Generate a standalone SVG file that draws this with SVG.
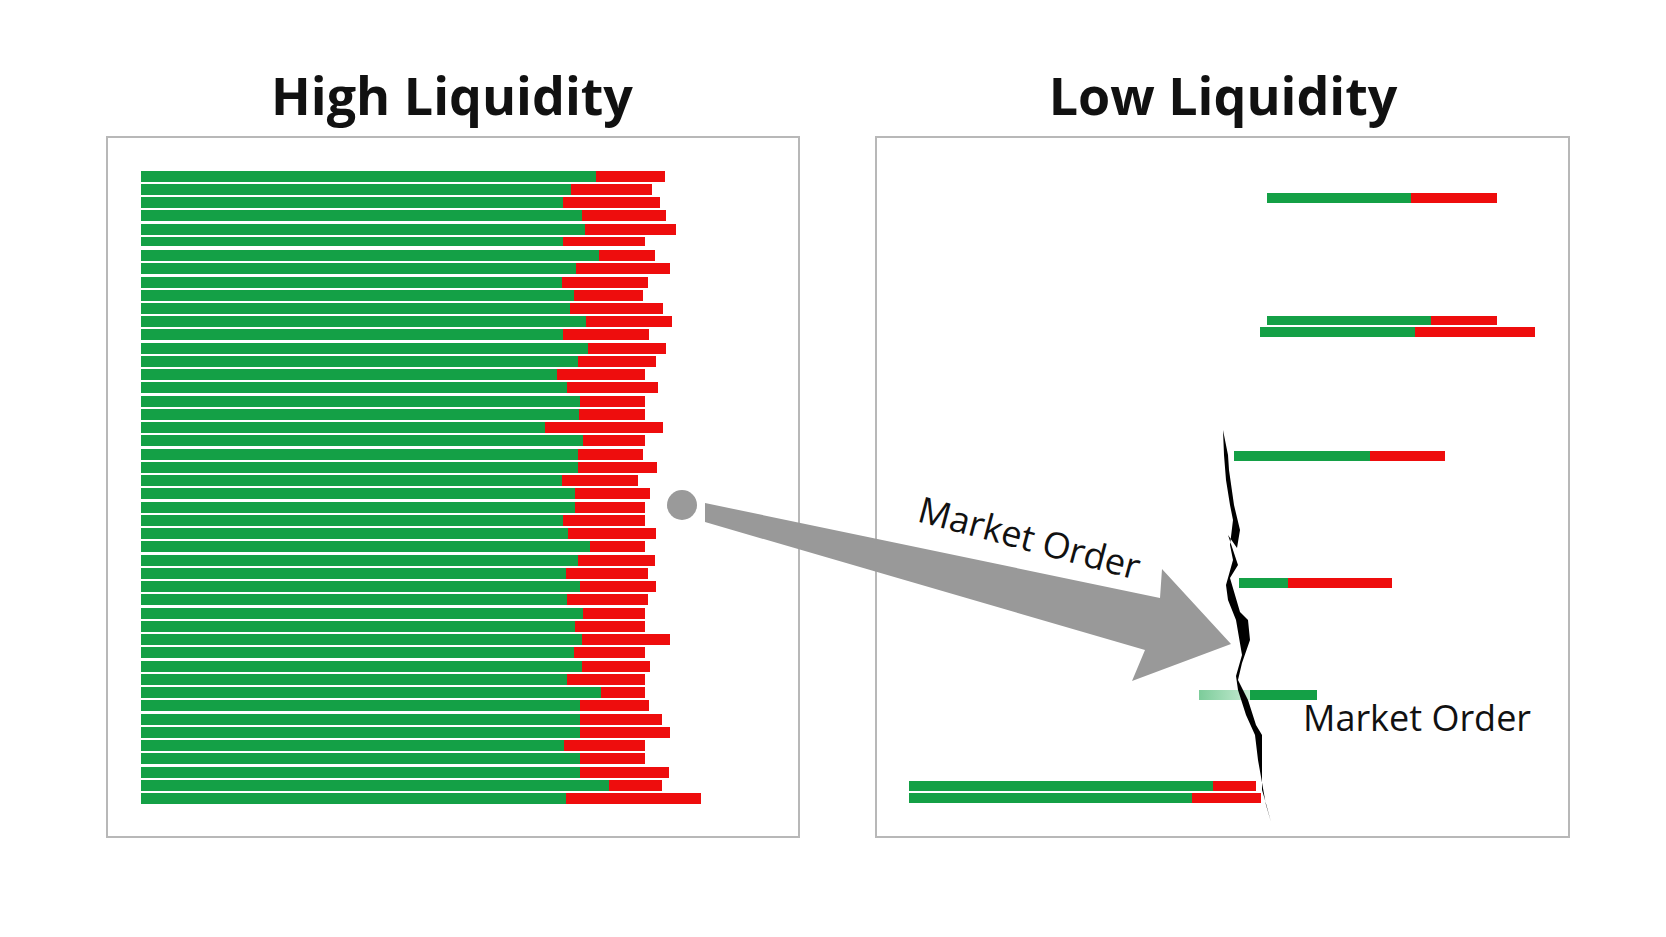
<svg xmlns="http://www.w3.org/2000/svg" width="1666" height="937" viewBox="0 0 1666 937">
<style>
.t{font-family:"Open Sans","Liberation Sans",sans-serif;font-weight:700;font-size:52px;fill:#111;text-anchor:middle}
.m{font-family:"Open Sans","Liberation Sans",sans-serif;font-size:36px;fill:#111}
.g{fill:#14a046}.r{fill:#ee0d0d}
.box{fill:#fff;stroke:#b8b8b8;stroke-width:2}
</style>
<rect width="1666" height="937" fill="#fff"/>
<g id="titles">
<text class="t" x="452" y="115">High Liquidity</text>
<text class="t" x="1223" y="115">Low Liquidity</text>
</g>
<g id="high-panel">
<rect class="box" x="107" y="137" width="692" height="700"/>
<g id="high-bars"></g>
</g>
<g id="low-panel">
<rect class="box" x="876" y="137" width="693" height="700"/>
<rect class="g" x="1267" y="193" width="145" height="10"/><rect class="r" x="1411" y="193" width="86" height="10"/>
<rect class="g" x="1267" y="316" width="165" height="9"/><rect class="r" x="1431" y="316" width="66" height="9"/>
<rect class="g" x="1260" y="327" width="156" height="10"/><rect class="r" x="1415" y="327" width="120" height="10"/>
<rect class="g" x="1234" y="451" width="137" height="10"/><rect class="r" x="1370" y="451" width="75" height="10"/>
<rect class="g" x="1239" y="578" width="50" height="10"/><rect class="r" x="1288" y="578" width="104" height="10"/>
<defs><linearGradient id="fade" x1="0" x2="1"><stop offset="0" stop-color="#7ccc9a"/><stop offset="1" stop-color="#c8ecd4"/></linearGradient></defs>
<rect x="1199" y="690" width="52" height="10" fill="url(#fade)"/><rect class="g" x="1250" y="690" width="67" height="10"/>
<rect class="g" x="909" y="781" width="305" height="10"/><rect class="r" x="1213" y="781" width="43" height="10"/>
<rect class="g" x="909" y="793" width="284" height="10"/><rect class="r" x="1192" y="793" width="69" height="10"/>
<polygon fill="#000" points="1223,430 1228,455 1229,470 1234,505 1240,530 1237,548 1228,535 1238,565 1230,578 1240,612 1248,620 1250,640 1242,663 1238,680 1248,700 1256,725 1262,735 1262,790 1265,800 1271,822 1266,805 1258,760 1255,735 1246,715 1238,690 1236,676 1242,655 1236,620 1228,600 1226,585 1233,560 1230,545 1233,520 1230,505 1226,480 1224,455"/>
<text class="m" x="1303" y="731">Market Order</text>
<text class="m" transform="translate(916,521) rotate(15)">Market Order</text>
</g>
<g id="connectors">
<circle cx="682" cy="505" r="15" fill="#9a9a9a"/>
<polygon fill="#999" points="705,503 1160,598 1162,569 1231,644 1132,681 1145,650 705,522"/>
</g>
<g id="rows">
<rect class="g" x="141" y="171" width="455" height="11"/><rect class="r" x="596" y="171" width="69" height="11"/>
<rect class="g" x="141" y="184" width="430" height="11"/><rect class="r" x="571" y="184" width="81" height="11"/>
<rect class="g" x="141" y="197" width="422" height="11"/><rect class="r" x="563" y="197" width="97" height="11"/>
<rect class="g" x="141" y="210" width="441" height="11"/><rect class="r" x="582" y="210" width="84" height="11"/>
<rect class="g" x="141" y="224" width="444" height="11"/><rect class="r" x="585" y="224" width="91" height="11"/>
<rect class="g" x="141" y="237" width="422" height="9"/><rect class="r" x="563" y="237" width="82" height="9"/>
<rect class="g" x="141" y="250" width="458" height="11"/><rect class="r" x="599" y="250" width="56" height="11"/>
<rect class="g" x="141" y="263" width="435" height="11"/><rect class="r" x="576" y="263" width="94" height="11"/>
<rect class="g" x="141" y="277" width="421" height="11"/><rect class="r" x="562" y="277" width="86" height="11"/>
<rect class="g" x="141" y="290" width="433" height="11"/><rect class="r" x="574" y="290" width="69" height="11"/>
<rect class="g" x="141" y="303" width="429" height="11"/><rect class="r" x="570" y="303" width="93" height="11"/>
<rect class="g" x="141" y="316" width="445" height="11"/><rect class="r" x="586" y="316" width="86" height="11"/>
<rect class="g" x="141" y="329" width="422" height="11"/><rect class="r" x="563" y="329" width="86" height="11"/>
<rect class="g" x="141" y="343" width="447" height="11"/><rect class="r" x="588" y="343" width="78" height="11"/>
<rect class="g" x="141" y="356" width="437" height="11"/><rect class="r" x="578" y="356" width="78" height="11"/>
<rect class="g" x="141" y="369" width="416" height="11"/><rect class="r" x="557" y="369" width="88" height="11"/>
<rect class="g" x="141" y="382" width="426" height="11"/><rect class="r" x="567" y="382" width="91" height="11"/>
<rect class="g" x="141" y="396" width="439" height="11"/><rect class="r" x="580" y="396" width="65" height="11"/>
<rect class="g" x="141" y="409" width="438" height="11"/><rect class="r" x="579" y="409" width="66" height="11"/>
<rect class="g" x="141" y="422" width="404" height="11"/><rect class="r" x="545" y="422" width="118" height="11"/>
<rect class="g" x="141" y="435" width="442" height="11"/><rect class="r" x="583" y="435" width="62" height="11"/>
<rect class="g" x="141" y="449" width="437" height="11"/><rect class="r" x="578" y="449" width="65" height="11"/>
<rect class="g" x="141" y="462" width="437" height="11"/><rect class="r" x="578" y="462" width="79" height="11"/>
<rect class="g" x="141" y="475" width="421" height="11"/><rect class="r" x="562" y="475" width="76" height="11"/>
<rect class="g" x="141" y="488" width="434" height="11"/><rect class="r" x="575" y="488" width="75" height="11"/>
<rect class="g" x="141" y="502" width="434" height="11"/><rect class="r" x="575" y="502" width="70" height="11"/>
<rect class="g" x="141" y="515" width="422" height="11"/><rect class="r" x="563" y="515" width="82" height="11"/>
<rect class="g" x="141" y="528" width="427" height="11"/><rect class="r" x="568" y="528" width="88" height="11"/>
<rect class="g" x="141" y="541" width="449" height="11"/><rect class="r" x="590" y="541" width="55" height="11"/>
<rect class="g" x="141" y="555" width="437" height="11"/><rect class="r" x="578" y="555" width="77" height="11"/>
<rect class="g" x="141" y="568" width="425" height="11"/><rect class="r" x="566" y="568" width="82" height="11"/>
<rect class="g" x="141" y="581" width="439" height="11"/><rect class="r" x="580" y="581" width="76" height="11"/>
<rect class="g" x="141" y="594" width="426" height="11"/><rect class="r" x="567" y="594" width="81" height="11"/>
<rect class="g" x="141" y="608" width="442" height="11"/><rect class="r" x="583" y="608" width="62" height="11"/>
<rect class="g" x="141" y="621" width="434" height="11"/><rect class="r" x="575" y="621" width="70" height="11"/>
<rect class="g" x="141" y="634" width="441" height="11"/><rect class="r" x="582" y="634" width="88" height="11"/>
<rect class="g" x="141" y="647" width="433" height="11"/><rect class="r" x="574" y="647" width="71" height="11"/>
<rect class="g" x="141" y="661" width="441" height="11"/><rect class="r" x="582" y="661" width="68" height="11"/>
<rect class="g" x="141" y="674" width="426" height="11"/><rect class="r" x="567" y="674" width="78" height="11"/>
<rect class="g" x="141" y="687" width="460" height="11"/><rect class="r" x="601" y="687" width="44" height="11"/>
<rect class="g" x="141" y="700" width="439" height="11"/><rect class="r" x="580" y="700" width="69" height="11"/>
<rect class="g" x="141" y="714" width="439" height="11"/><rect class="r" x="580" y="714" width="82" height="11"/>
<rect class="g" x="141" y="727" width="439" height="11"/><rect class="r" x="580" y="727" width="90" height="11"/>
<rect class="g" x="141" y="740" width="423" height="11"/><rect class="r" x="564" y="740" width="81" height="11"/>
<rect class="g" x="141" y="753" width="439" height="11"/><rect class="r" x="580" y="753" width="65" height="11"/>
<rect class="g" x="141" y="767" width="439" height="11"/><rect class="r" x="580" y="767" width="89" height="11"/>
<rect class="g" x="141" y="780" width="468" height="11"/><rect class="r" x="609" y="780" width="53" height="11"/>
<rect class="g" x="141" y="793" width="425" height="11"/><rect class="r" x="566" y="793" width="135" height="11"/>
</g>
</svg>
